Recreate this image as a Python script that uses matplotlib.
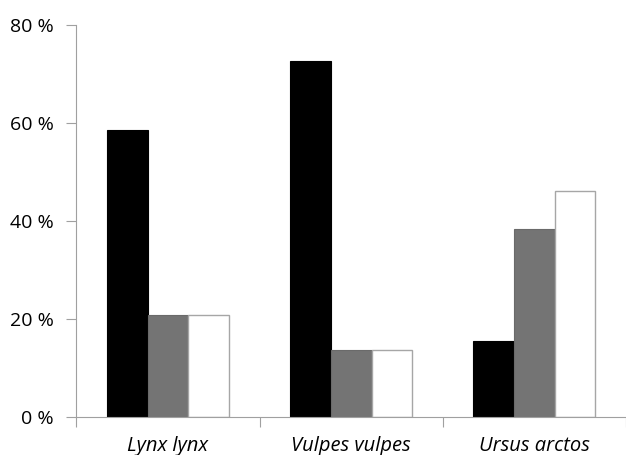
import matplotlib.pyplot as plt
import numpy as np

# species and the three series (percent)
species = ['Lynx lynx', 'Vulpes vulpes', 'Ursus arctos']
series_black = [58.5, 72.5, 15.4]
series_gray = [20.7, 13.6, 38.4]
series_white = [20.7, 13.7, 46.1]
yticks = [0, 20, 40, 60, 80]
ytick_labels = ['0 %', '20 %', '40 %', '60 %', '80 %']

plt.rcParams['font.family'] = ['Open Sans', 'DejaVu Sans']

fig = plt.figure(figsize=(6.26, 4.55), dpi=100)
ax = fig.add_axes([0.1219, 0.0835, 0.8781, 0.8622])

x = np.arange(len(species))
w = 1 / 4.5  # gap width 150%
ax.bar(x - w, series_black, w, color='black', edgecolor='black', linewidth=0.8)
ax.bar(x, series_gray, w, color='#747474', edgecolor='#6a6a6a', linewidth=0.8)
ax.bar(x + w, series_white, w, color='white', edgecolor='#a6a6a6', linewidth=1.0)

ax.set_xlim(-0.5, len(species) - 0.5)
ax.set_ylim(0, 80)

ax.set_yticks(yticks)
ax.set_yticklabels(ytick_labels, fontsize=14)
ax.tick_params(axis='y', length=7, width=0.8, color='#a0a0a0', pad=9)

# category labels at centres, tick marks at boundaries
ax.set_xticks(x)
ax.set_xticklabels(species, fontsize=14.5, style='italic')
ax.tick_params(axis='x', which='major', length=0, pad=14)
ax.set_xticks(np.arange(len(species) + 1) - 0.5, minor=True)
ax.tick_params(axis='x', which='minor', length=7, width=0.8, color='#a0a0a0')

for side in ['top', 'right']:
    ax.spines[side].set_visible(False)
for side in ['left', 'bottom']:
    ax.spines[side].set_color('#a0a0a0')
    ax.spines[side].set_linewidth(0.8)

fig.savefig('out.png', dpi=100)
